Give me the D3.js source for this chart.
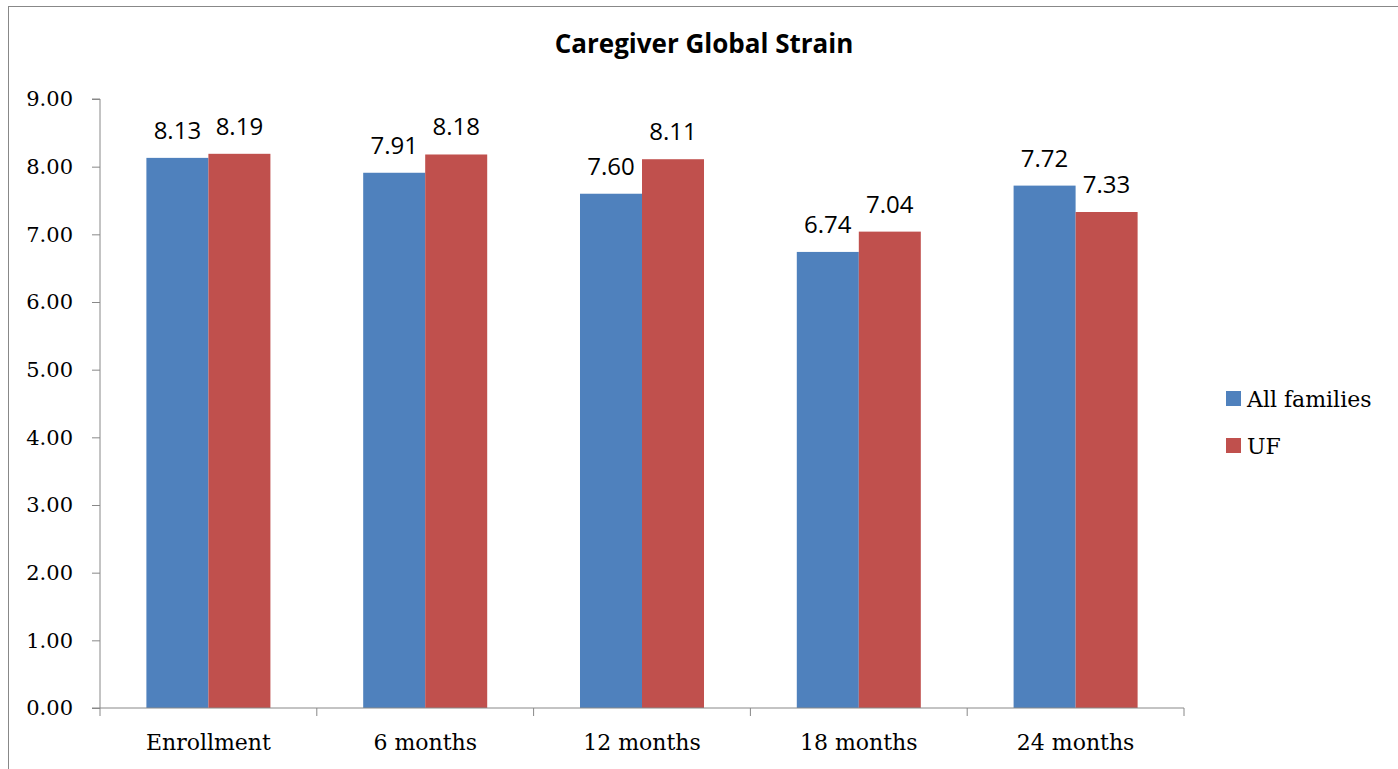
<!DOCTYPE html>
<html>
<head>
<meta charset="utf-8">
<script src="https://cdn.jsdelivr.net/npm/d3@7"></script>
<style>
  body { margin: 0; background: #fff; }
  svg { display: block; }
</style>
</head>
<body>
<svg></svg>
<script>
// chart data
let categories = ["Enrollment", "6 months", "12 months", "18 months", "24 months"]
let seriesNames = ["All families", "UF"]
let allFamilies = [8.13, 7.91, 7.60, 6.74, 7.72]
let uf = [8.19, 8.18, 8.11, 7.04, 7.33]
let yTicks = [0, 1, 2, 3, 4, 5, 6, 7, 8, 9]

let colors = ["#4F81BD", "#C0504D"]

let width = 1398
let height = 769
let plotLeft = 100
let plotRight = 1184
let plotTop = 99
let plotBottom = 708

let serif = "'DejaVu Serif', 'Liberation Serif', serif"
let sans = "'Open Sans', 'Liberation Sans', sans-serif"

let svg = d3.select("svg")
    .attr("width", width)
    .attr("height", height)

// outer border of the chart area
svg.append("rect")
    .attr("x", 8.5)
    .attr("y", 6.5)
    .attr("width", width + 20)
    .attr("height", height + 20)
    .attr("fill", "none")
    .attr("stroke", "#888")
    .attr("stroke-width", 1)

svg.append("text")
    .attr("x", 704)
    .attr("y", 53)
    .attr("text-anchor", "middle")
    .attr("font-family", sans)
    .attr("font-weight", "bold")
    .attr("font-size", 26)
    .text("Caregiver Global Strain")

let xScale = d3.scaleBand()
    .domain(categories)
    .range([plotLeft, plotRight])
    .paddingInner(0.428)
    .paddingOuter(0.214)

let subScale = d3.scaleBand()
    .domain(seriesNames)
    .range([0, xScale.bandwidth()])

let yScale = d3.scaleLinear()
    .domain([0, 9])
    .range([plotBottom, plotTop])

let rows = categories.map((c, i) => ({
    cat: c,
    values: [allFamilies[i], uf[i]]
}))

let groups = svg.selectAll(".group")
    .data(rows)
    .enter()
    .append("g")
    .attr("class", "group")
    .attr("transform", d => "translate(" + xScale(d.cat) + ",0)")

groups.selectAll("rect")
    .data(d => d.values.map((v, j) => ({ name: seriesNames[j], v: v, j: j })))
    .enter()
    .append("rect")
    .attr("x", d => subScale(d.name))
    .attr("y", d => yScale(d.v))
    .attr("width", subScale.bandwidth())
    .attr("height", d => plotBottom - yScale(d.v))
    .attr("fill", d => colors[d.j])

groups.selectAll(".lbl")
    .data(d => d.values.map((v, j) => ({ name: seriesNames[j], v: v })))
    .enter()
    .append("text")
    .attr("class", "lbl")
    .attr("x", d => subScale(d.name) + subScale.bandwidth() / 2)
    .attr("y", d => yScale(d.v) - 19)
    .attr("text-anchor", "middle")
    .attr("font-family", sans)
    .attr("font-size", 24)
    .text(d => d.v.toFixed(2))

// axes
let yAxis = d3.axisLeft(yScale)
    .tickValues(yTicks)
    .tickFormat(d => d.toFixed(2))
    .tickSize(8)
    .tickPadding(19)

let gy = svg.append("g")
    .attr("transform", "translate(" + plotLeft + ",0)")
    .call(yAxis)

gy.select(".domain").attr("stroke", "#888").attr("d", "M-8," + plotTop + "H0V" + plotBottom + "H-8")
gy.selectAll(".tick line").attr("stroke", "#888")
gy.selectAll(".tick text")
    .attr("font-family", serif)
    .attr("font-size", 21)
    .attr("fill", "#000")

let xAxis = d3.axisBottom(xScale).tickSize(0).tickPadding(26)

let gx = svg.append("g")
    .attr("transform", "translate(0," + plotBottom + ")")
    .call(xAxis)

gx.select(".domain").attr("stroke", "#888").attr("d", "M" + plotLeft + ",0H" + plotRight)
gx.selectAll(".tick text")
    .attr("font-family", serif)
    .attr("font-size", 22)
    .attr("fill", "#000")

// category separators on the x axis
let step = xScale.step()
gx.selectAll(".sep")
    .data(d3.range(categories.length + 1))
    .enter()
    .append("line")
    .attr("class", "sep")
    .attr("x1", i => plotLeft + i * step)
    .attr("x2", i => plotLeft + i * step)
    .attr("y1", 0)
    .attr("y2", 8)
    .attr("stroke", "#888")

// legend
let legend = svg.selectAll(".legend")
    .data(seriesNames)
    .enter()
    .append("g")
    .attr("class", "legend")
    .attr("transform", (d, i) => "translate(1226," + (391 + i * 47) + ")")

legend.append("rect")
    .attr("width", 15)
    .attr("height", 15)
    .attr("fill", (d, i) => colors[i])

legend.append("text")
    .attr("x", 21)
    .attr("y", 16)
    .attr("font-family", serif)
    .attr("font-size", 22)
    .text(d => d)
</script>
</body>
</html>
